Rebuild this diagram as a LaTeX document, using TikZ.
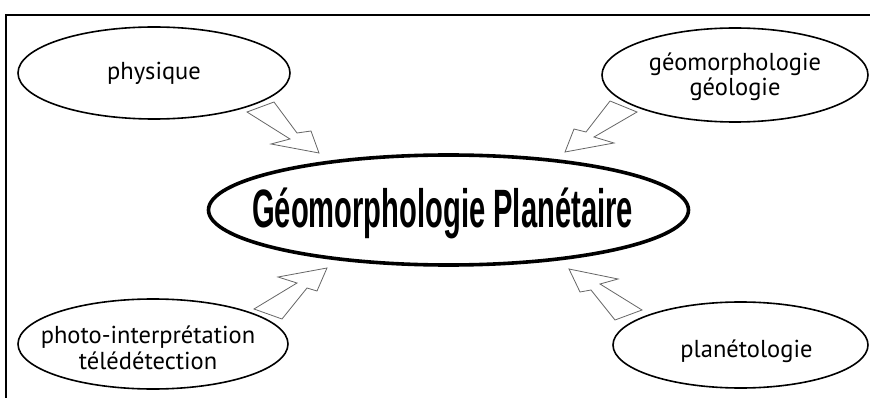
\documentclass[tikz,border=0pt]{standalone}
\usepackage{fontspec}
\usetikzlibrary{shapes.geometric}
\newfontfamily\labfont{PT Sans}
\newfontfamily\titlefont{Liberation Sans}
\begin{document}
\begin{tikzpicture}[x=1pt,y=-1pt,
  oval/.style={draw=black,line width=1.6pt,ellipse,inner sep=0pt},
  labtext/.style={inner sep=0pt,align=center,font=\labfont\fontsize{24.5}{25}\selectfont},
  mainoval/.style={draw=black,line width=3.6pt,ellipse,inner sep=0pt},
  maintext/.style={inner sep=0pt},
  blockarrow/.style={draw=black!60,line width=0.8pt,line join=miter,fill=white},
  frameline/.style={draw=black,line width=2pt}]
\useasboundingbox (0,0) rectangle (870,398);
\draw[frameline] (6,398) -- (6,15) -- (870,15);
\node[oval,minimum width=272pt,minimum height=92pt] (phys) at (154,73) {};
\node[labtext] (physT) at (phys.center) {physique};
\node[oval,minimum width=266pt,minimum height=94pt] (geo) at (735,75) {};
\node[labtext] (geoT) at ([yshift=-2pt]geo.center) {géomorphologie\\[0pt]géologie};
\node[oval,minimum width=270pt,minimum height=90pt] (photo) at (153,344) {};
\node[labtext] (photoT) at ([xshift=-5pt,yshift=-4pt]photo.center) {photo-interprétation\\[1pt]télédétection};
\node[oval,minimum width=255pt,minimum height=86pt] (plan) at (740.5,345) {};
\node[labtext] (planT) at ([xshift=6pt,yshift=-6pt]plan.center) {planétologie};
\node[mainoval,minimum width=480pt,minimum height=110pt] (main) at (448.5,210) {};
\node[maintext] (mainT) at ([xshift=-6pt,yshift=-3pt]main.center)
  {\scalebox{0.54}[1]{\titlefont\bfseries\fontsize{54}{54}\selectfont Géomorphologie Planétaire}};
% block arrows
\draw[blockarrow] (247,112) -- (274,102) -- (297,133) -- (311,131) -- (319,153) -- (271,144) -- (290,139) -- cycle;
\draw[blockarrow] (610,101) -- (637,112) -- (594,137) -- (614,143) -- (565,152) -- (574,129) -- (586,132) -- cycle;
\draw[blockarrow] (327,268) -- (317,291) -- (307,288) -- (282,319) -- (254,309) -- (297,283) -- (278,277) -- cycle;
\draw[blockarrow] (569,269) -- (618,279) -- (600,284) -- (642,310) -- (615,320) -- (591,290) -- (580,292) -- cycle;
\end{tikzpicture}
\end{document}
